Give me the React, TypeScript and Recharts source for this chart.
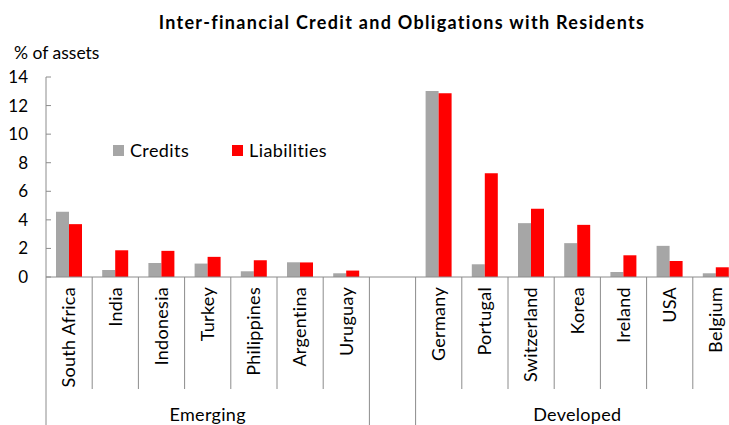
import React from 'react';
import { BarChart, Bar, XAxis, YAxis, Legend } from 'recharts';

// values, % of assets
const countries = [
  'South Africa', 'India', 'Indonesia', 'Turkey', 'Philippines', 'Argentina', 'Uruguay',
  '',
  'Germany', 'Portugal', 'Switzerland', 'Korea', 'Ireland', 'USA', 'Belgium',
];
const credits = [4.57, 0.49, 0.98, 0.94, 0.4, 1.03, 0.26, null, 13.02, 0.89, 3.77, 2.37, 0.35, 2.18, 0.26];
const liabilities = [3.7, 1.87, 1.83, 1.41, 1.17, 1.02, 0.45, null, 12.86, 7.26, 4.78, 3.65, 1.52, 1.12, 0.68];
const yTicks = [0, 2, 4, 6, 8, 10, 12, 14];
const groups = [
  { name: 'Emerging', from: 0, to: 6 },
  { name: 'Developed', from: 8, to: 14 },
];

const FONT = 'Lato, "Open Sans", sans-serif';
const AXIS = '#8c8c8c';

const data = countries.map((name, i) => ({
  name,
  credits: credits[i],
  liabilities: liabilities[i],
}));

// category label + boundary lines + group label under each tick
function CountryTick(props: any) {
  const { x, y, payload } = props;
  const i: number = payload.index ?? props.index;
  const half: number = payload.offset || 23.1;
  const band = half * 2;
  const isLong = (idx: number) =>
    groups.some(g => g.from === idx) || groups.some(g => g.to === idx - 1);
  const left = x - half;
  const group = groups.find(g => g.from === i);
  return (
    <g>
      <line x1={left} y1={y} x2={left} y2={isLong(i) ? y + 150 : y + 112} stroke={AXIS} />
      {i === countries.length - 1 && (
        <line x1={x + half} y1={y} x2={x + half} y2={y + 150} stroke={AXIS} />
      )}
      <text
        x={0}
        y={0}
        dy="0.35em"
        textAnchor="end"
        transform={`translate(${x},${y + 10}) rotate(-90)`}
        fontSize={18}
        letterSpacing={0.3}
        fontFamily={FONT}
        fill="#000"
      >
        {payload.value}
      </text>
      {group && (
        <text
          x={x + ((group.from + group.to) / 2 - i) * band}
          y={y + 144}
          textAnchor="middle"
          fontSize={18}
          letterSpacing={0.3}
          fontFamily={FONT}
          fill="#000"
        >
          {group.name}
        </text>
      )}
    </g>
  );
}

function LegendBox({ payload }: any) {
  return (
    <div style={{ display: 'flex', fontFamily: FONT, fontSize: 18, letterSpacing: 0.4 }}>
      {(payload || []).map((p: any, k: number) => (
        <div key={k} style={{ display: 'flex', alignItems: 'center', marginRight: 43 }}>
          <span style={{ width: 11, height: 11, background: p.color, display: 'inline-block', marginRight: 6 }} />
          <span>{p.value}</span>
        </div>
      ))}
    </div>
  );
}

export default function App() {
  return (
    <div style={{ position: 'absolute', left: 0, top: 0, width: 729, height: 425, overflow: 'hidden', background: '#fff' }}>
      <div style={{ position: 'absolute', left: 0, width: 804, top: 11, textAlign: 'center', fontFamily: FONT, fontWeight: 700, fontSize: 18, letterSpacing: 1.3 }}>
        Inter-financial Credit and Obligations with Residents
      </div>
      <div style={{ position: 'absolute', left: 14, top: 42, fontFamily: FONT, fontSize: 17.5 }}>% of assets</div>
      <BarChart
        width={745}
        height={425}
        data={data}
        margin={{ top: 77, right: 6, bottom: 0, left: 0 }}
        barCategoryGap={10}
        barGap={0}
      >
        <XAxis
          dataKey="name"
          interval={0}
          height={148}
          tickSize={0}
          tickMargin={0}
          tickLine={false}
          axisLine={{ stroke: AXIS }}
          tick={<CountryTick />}
        />
        <YAxis
          width={46}
          domain={[0, 14]}
          ticks={yTicks}
          interval={0}
          tickSize={-5}
          tickMargin={23}
          axisLine={{ stroke: AXIS }}
          tickLine={{ stroke: AXIS }}
          tick={{ fill: '#000', fontSize: 17, fontFamily: FONT }}
        />
        <Legend
          layout="horizontal"
          verticalAlign="middle"
          align="center"
          wrapperStyle={{ top: 139, left: 113, width: 'auto' }}
          content={<LegendBox />}
        />
        <Bar dataKey="credits" name="Credits" fill="#a6a6a6" isAnimationActive={false} />
        <Bar dataKey="liabilities" name="Liabilities" fill="#ff0000" isAnimationActive={false} />
      </BarChart>
    </div>
  );
}
